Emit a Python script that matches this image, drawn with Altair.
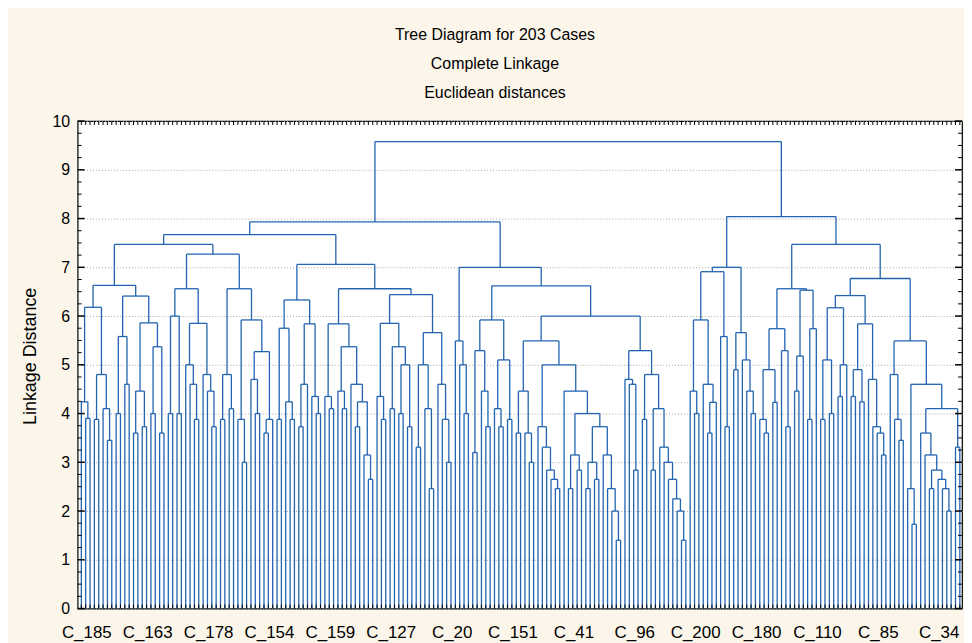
import altair as alt
import pandas as pd

# ---------------- data ----------------
TITLE_LINES = ["Tree Diagram for 203 Cases", "Complete Linkage", "Euclidean distances"]
Y_TITLE = "Linkage Distance"
N_CASES = 203

# linkage distance at which neighbouring leaves (in plotted order) are joined
merge_heights = [
    4.24, 3.9, 6.18, 3.88, 4.8, 4.1, 3.45, 6.63, 4.0, 5.58,
    4.6, 6.41, 3.6, 4.46, 3.73, 5.86, 4.0, 5.37, 3.6, 7.47,
    4.0, 6.0, 4.0, 6.56, 5.0, 4.6, 3.88, 5.85, 4.8, 4.46,
    3.73, 7.27, 3.88, 4.8, 4.1, 6.56, 3.88, 3.0, 5.92, 4.7,
    4.0, 5.27, 3.6, 3.88, 7.67, 3.88, 5.75, 4.24, 3.88, 6.33,
    3.73, 4.6, 5.84, 4.35, 4.0, 7.06, 4.35, 4.1, 5.84, 4.46,
    4.1, 5.37, 4.6, 3.73, 4.24, 3.15, 2.65, 6.56, 4.35, 3.88,
    5.85, 4.1, 5.37, 4.0, 5.0, 3.73, 6.44, 3.31, 5.0, 4.1,
    2.46, 5.66, 4.6, 3.88, 3.0, 7.93, 5.49, 5.0, 4.0, 7.0,
    3.2, 5.29, 4.46, 3.73, 5.92, 4.1, 3.73, 5.1, 3.88, 6.62,
    3.6, 4.46, 3.6, 3.0, 5.49, 3.73, 3.31, 2.84, 2.65, 2.46,
    5.0, 4.46, 2.46, 3.15, 2.84, 4.0, 2.46, 3.0, 2.65, 3.73,
    3.15, 2.46, 2.0, 1.4, 6.0, 4.7, 4.6, 2.84, 5.29, 3.88,
    4.8, 2.84, 4.1, 3.31, 3.0, 2.65, 2.25, 2.0, 1.4, 9.58,
    4.46, 4.0, 5.92, 4.6, 3.6, 4.23, 6.91, 5.58, 3.73, 7.0,
    4.9, 5.66, 5.1, 4.46, 4.0, 8.04, 3.88, 3.6, 4.9, 4.23,
    5.74, 5.29, 3.73, 6.56, 4.46, 5.18, 6.53, 3.88, 5.74, 7.47,
    3.88, 5.1, 4.0, 6.17, 4.35, 5.0, 6.42, 4.35, 4.9, 4.24,
    5.84, 4.7, 3.73, 3.6, 3.15, 6.77, 4.8, 3.88, 3.45, 5.49,
    2.46, 1.73, 4.6, 3.6, 3.15, 2.46, 2.84, 2.65, 2.46, 2.0,
    4.1, 3.31,
]

label_positions = [1, 15, 29, 43, 57, 71, 85, 99, 113, 127, 141, 155, 169, 183, 197]
label_names = ["C_185", "C_163", "C_178", "C_154", "C_159", "C_127", "C_20", "C_151",
               "C_41", "C_96", "C_200", "C_180", "C_110", "C_85", "C_34"]
y_major = [0, 1, 2, 3, 4, 5, 6, 7, 8, 9, 10]
y_minor = [0.25, 0.5, 0.75, 1.25, 1.5, 1.75, 2.25, 2.5, 2.75, 3.25, 3.5, 3.75,
           4.25, 4.5, 4.75, 5.25, 5.5, 5.75, 6.25, 6.5, 6.75, 7.25, 7.5, 7.75,
           8.25, 8.5, 8.75, 9.25, 9.5, 9.75]

# ---------------- build dendrogram segments ----------------
segments = []


def build(lo, hi):
    if lo == hi:
        return lo + 1, 0.0
    k = max(range(lo, hi), key=lambda j: merge_heights[j])
    h = merge_heights[k]
    xl, hl = build(lo, k)
    xr, hr = build(k + 1, hi)
    segments.append({"x": xl, "x2": xl, "y": hl, "y2": h})
    segments.append({"x": xr, "x2": xr, "y": hr, "y2": h})
    segments.append({"x": xl, "x2": xr, "y": h, "y2": h})
    return (xl + xr) / 2.0, h


build(0, N_CASES - 1)
seg_df = pd.DataFrame(segments)

leaf_df = pd.DataFrame({"x": list(range(1, N_CASES + 1))})
leaf_df["b0"] = 0.0
leaf_df["b1"] = 0.08
leaf_df["t0"] = 10.0
leaf_df["t1"] = 9.92

major_df = pd.DataFrame({"y": y_major})
minor_df = pd.DataFrame({"y": y_minor})

# ---------------- styling ----------------
FONT = "Liberation Sans Narrow, Arial Narrow, Liberation Sans, sans-serif"
BLUE = "#2264b0"
W, H = 889, 490

xs = alt.Scale(domain=[0.15, 203.5], nice=False, zero=False)
ys = alt.Scale(domain=[0, 10], nice=False, zero=False)

label_expr = "[" + ",".join("'" + n + "'" for n in label_names) + "][round((datum.value - 1) / 14)]"

x_axis = alt.Axis(
    values=label_positions, labelExpr=label_expr, ticks=False, domain=False, grid=False,
    labelFontSize=17, labelPadding=16, labelOffset=5, labelFont=FONT, labelColor="black",
    labelFlush=False, labelOverlap=False, title=None)
y_axis = alt.Axis(
    values=y_major, grid=True, gridDash=[1, 2], gridColor="#a8a8a8", gridWidth=1,
    ticks=False, domain=False, labelFontSize=16, labelPadding=8, labelFont=FONT,
    labelColor="black", title=Y_TITLE, titleFont=FONT, titleFontSize=18,
    titleFontWeight="normal", titleColor="black", titlePadding=13, titleY=236)

dend = alt.Chart(seg_df).mark_rule(color=BLUE, strokeWidth=1.3).encode(
    x=alt.X("x:Q", scale=xs, axis=x_axis),
    x2="x2:Q",
    y=alt.Y("y:Q", scale=ys, axis=y_axis),
    y2="y2:Q",
)

leaf_bottom = alt.Chart(leaf_df).mark_rule(color="black", strokeWidth=1).encode(
    x=alt.X("x:Q", scale=xs, axis=x_axis),
    y=alt.Y("b0:Q", scale=ys, axis=y_axis),
    y2="b1:Q",
)
leaf_top = alt.Chart(leaf_df).mark_rule(color="black", strokeWidth=1).encode(
    x=alt.X("x:Q", scale=xs, axis=x_axis),
    y=alt.Y("t0:Q", scale=ys, axis=y_axis),
    y2="t1:Q",
)

maj_left = alt.Chart(major_df).mark_rule(color="black", strokeWidth=1.5).encode(
    y=alt.Y("y:Q", scale=ys, axis=y_axis), x=alt.value(0), x2=alt.value(7))
min_left = alt.Chart(minor_df).mark_rule(color="black", strokeWidth=1).encode(
    y=alt.Y("y:Q", scale=ys, axis=y_axis), x=alt.value(0), x2=alt.value(4))
maj_right = alt.Chart(major_df).mark_rule(color="black", strokeWidth=1.5).encode(
    y=alt.Y("y:Q", scale=ys, axis=y_axis), x=alt.value(W), x2=alt.value(W - 7))
min_right = alt.Chart(minor_df).mark_rule(color="black", strokeWidth=1).encode(
    y=alt.Y("y:Q", scale=ys, axis=y_axis), x=alt.value(W), x2=alt.value(W - 4))

chart = alt.layer(
    dend, leaf_bottom, leaf_top, maj_left, min_left, maj_right, min_right
).properties(
    width=W,
    height=H,
    autosize=alt.AutoSizeParams(type="none"),
    padding={"left": 70, "top": 112, "right": 2, "bottom": 33},
    background="#fcf6ea",
    title=alt.TitleParams(
        text=TITLE_LINES, fontSize=16, font=FONT, fontWeight="normal", color="black",
        lineHeight=29, anchor="middle", dx=-25, offset=12),
).configure_view(
    stroke="black", strokeWidth=1.2, fill="white"
)

chart.save("out.html", embed_options={"renderer": "svg", "actions": False})
